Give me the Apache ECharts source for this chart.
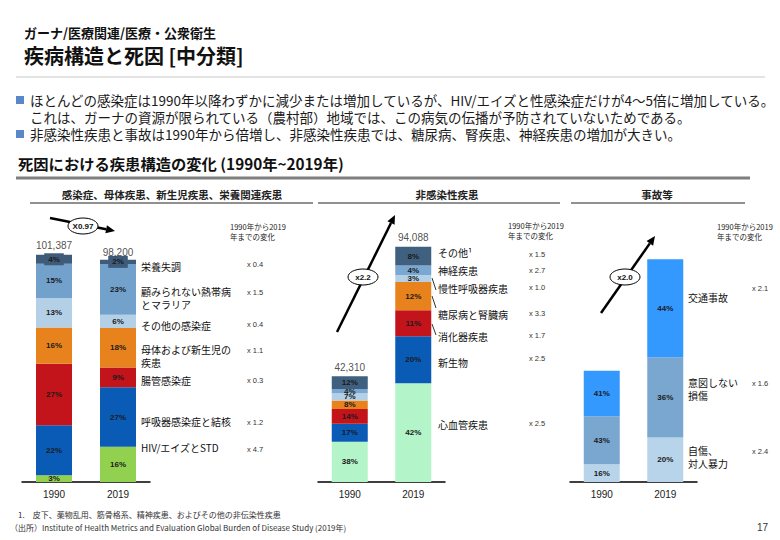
<!DOCTYPE html>
<html><head><meta charset="utf-8">
<script src="https://cdn.jsdelivr.net/npm/echarts@6/dist/echarts.min.js"></script>
<style>html,body{margin:0;padding:0;background:#fff}#c{width:780px;height:540px}</style>
</head><body><div id="c"></div>
<script>
// ---------- DATA ----------
const years = ['1990', '2019'];

// Panel 1: 感染症、母体疾患、新生児疾患、栄養関連疾患 (bottom -> top)
const p1Names = ['HIV/エイズとSTD', '呼吸器感染症と結核', '腸管感染症', '母体および新生児の\n疾患', 'その他の感染症', '顧みられない熱帯病\nとマラリア', '栄養失調'];
const p1Pct1990 = [3, 22, 27, 16, 13, 15, 4];
const p1Pct2019 = [16, 27, 9, 18, 6, 23, 2];
const p1Change = [4.7, 1.2, 0.3, 1.1, 0.4, 1.5, 0.4];
const p1Totals = [101387, 98200];
const p1Ratio = 'X0.97';

// Panel 2: 非感染性疾患 (bottom -> top)
const p2Names = ['心血管疾患', '新生物', '消化器疾患', '糖尿病と腎臓病', '慢性呼吸器疾患', '神経疾患', 'その他¹'];
const p2Pct1990 = [38, 17, 14, 8, 7, 4, 12];
const p2Pct2019 = [42, 20, 11, 12, 3, 4, 8];
const p2Change = [2.5, 2.5, 1.7, 3.3, 1.0, 2.7, 1.5];
const p2Totals = [42310, 94088];
const p2Ratio = 'x2.2';

// Panel 3: 事故等 (bottom -> top); totals not shown, relative index (1990 = 100)
const p3Names = ['自傷、\n対人暴力', '意図しない\n損傷', '交通事故'];
const p3Pct1990 = [16, 43, 41];
const p3Pct2019 = [20, 36, 44];
const p3Change = [2.4, 1.6, 2.1];
const p3Index = [100, 200];
const p3Ratio = 'x2.0';

// ---------- STYLE / LAYOUT ----------
const JP = '"Noto Sans CJK JP", "Noto Sans", sans-serif';
const LAT = '"Liberation Sans", Arial, sans-serif';
const p1Colors = ['#92d050', '#0a5bb5', '#c3141b', '#e8821c', '#b4d0e6', '#72a2cc', '#3e5b7a'];
const p2Colors = ['#b3f5c9', '#0a5bb5', '#c3141b', '#e8821c', '#b4d0e6', '#7aa8d2', '#40607f'];
const p3Colors = ['#b8d4ea', '#7aa7cf', '#3399ff'];
// small vertical nudges for crowded labels in the 1990 NCD bar (per series, bottom -> top)
const p2Nudge1990 = [0, 0, 0, -1, 0, -2, -2];

const panels = [
  {names: p1Names, a: p1Pct1990, b: p1Pct2019, change: p1Change, totals: p1Totals, colors: p1Colors, showTotals: true,
   grid: {left: 22, width: 128, top: 213, bottom: 58}, ymax: 120000, nudge: null,
   nameX: 141, nameY: [447, 421, 380, 355.5, 325, 297.5, 266], multX: 247, multY: [449, 422, 380, 350, 324, 292, 264],
   noteX: 230, noteY: 231},
  {names: p2Names, a: p2Pct1990, b: p2Pct2019, change: p2Change, totals: p2Totals, colors: p2Colors, showTotals: true,
   grid: {left: 318, width: 127, top: 232, bottom: 58}, ymax: 100000, nudge: p2Nudge1990,
   nameX: 438, nameY: [424, 362, 336, 314, 288, 270, 252], multX: 529, multY: [423, 358, 335, 313, 287, 270, 254],
   noteX: 508, noteY: 230},
  {names: p3Names, a: p3Pct1990, b: p3Pct2019, change: p3Change, totals: p3Index, colors: p3Colors, showTotals: false,
   grid: {left: 570, width: 127, top: 237, bottom: 58}, ymax: 220, nudge: null,
   nameX: 688, nameY: [456.5, 389, 297], multX: 752, multY: [451, 383, 288],
   noteX: 717, noteY: 231}
];

const grids = [], xAxes = [], yAxes = [], series = [], graphics = [];

panels.forEach((p, gi) => {
  grids.push(Object.assign({containLabel: false}, p.grid));
  xAxes.push({type: 'category', gridIndex: gi, data: years,
    axisLine: {lineStyle: {color: '#000', width: 1.5}}, axisTick: {show: false},
    axisLabel: {fontSize: 10, color: '#222', fontFamily: LAT, margin: 7}});
  yAxes.push({type: 'value', gridIndex: gi, min: 0, max: p.ymax, show: false, splitLine: {show: false}});
  p.names.forEach((nm, si) => {
    const pcts = [p.a[si], p.b[si]];
    const isTopP1 = gi === 0 && si === p.names.length - 1;
    const data = pcts.map((v, k) => {
      const item = {value: p.totals[k] * v / 100};
      if (p.nudge && k === 0 && p.nudge[si]) item.label = {offset: [0, p.nudge[si]]};
      return item;
    });
    series.push({
      type: 'bar', name: nm, stack: 'p' + gi, xAxisIndex: gi, yAxisIndex: gi, barWidth: 36,
      itemStyle: {color: p.colors[si]},
      data: data,
      label: Object.assign({show: true, position: 'inside', fontSize: 8, fontWeight: 'bold', color: '#1a1a1a',
        fontFamily: LAT, lineHeight: 7, formatter: (q) => pcts[q.dataIndex] + '%'},
        isTopP1 ? {backgroundColor: p.colors[si], padding: [2, 4, 2, 4], offset: [0, 6], lineHeight: 8} : {}),
      labelLayout: {hideOverlap: false},
      emphasis: {disabled: true}, animation: false
    });
  });
  if (p.showTotals) {
    series.push({type: 'scatter', xAxisIndex: gi, yAxisIndex: gi, symbolSize: 2,
      itemStyle: {color: 'rgba(255,255,255,0)'}, data: p.totals.slice(), animation: false, z: 5,
      emphasis: {disabled: true}, silent: true,
      label: {show: true, position: 'top', distance: 3, fontSize: 10, lineHeight: 10, color: '#222', fontFamily: LAT,
        formatter: (q) => q.value.toLocaleString('en-US')}});
  }
  // category names and change multipliers
  p.names.forEach((nm, si) => {
    graphics.push({type: 'text', x: p.nameX, y: p.nameY[si], style: {text: nm, font: '10px ' + JP, fill: '#111',
      textAlign: 'left', align: 'left', textVerticalAlign: 'middle', verticalAlign: 'middle', lineHeight: 13}});
    graphics.push({type: 'text', x: p.multX, y: p.multY[si], style: {text: 'x ' + p.change[si].toFixed(1), font: '7.5px ' + LAT, fill: '#333',
      textAlign: 'left', align: 'left', textVerticalAlign: 'middle', verticalAlign: 'middle'}});
  });
  graphics.push({type: 'text', x: p.noteX, y: p.noteY, style: {text: '1990年から2019\n年までの変化', font: '7.5px ' + JP, fill: '#222',
    textAlign: 'left', align: 'left', textVerticalAlign: 'middle', verticalAlign: 'middle', lineHeight: 10}});
});

// arrows with ratio ellipses
function arrow(x1, y1, x2, y2, cx, cy, txt) {
  const ang = Math.atan2(y2 - y1, x2 - x1), L = 9, W = 4;
  const bx = x2 - L * Math.cos(ang), by = y2 - L * Math.sin(ang);
  graphics.push({type: 'line', shape: {x1: x1, y1: y1, x2: bx, y2: by}, style: {stroke: '#000', lineWidth: 2.5}, z: 10});
  graphics.push({type: 'polygon', shape: {points: [[x2, y2],
    [bx + W * Math.sin(ang), by - W * Math.cos(ang)], [bx - W * Math.sin(ang), by + W * Math.cos(ang)]]},
    style: {fill: '#000'}, z: 10});
  graphics.push({type: 'ellipse', shape: {cx: cx, cy: cy, rx: 15, ry: 8}, style: {fill: '#fff', stroke: '#000', lineWidth: 1}, z: 11});
  graphics.push({type: 'text', x: cx, y: cy, z: 12, style: {text: txt, font: 'bold 8px ' + LAT, fill: '#111',
    textAlign: 'center', align: 'center', textVerticalAlign: 'middle', verticalAlign: 'middle'}});
}
arrow(50, 218, 115, 231, 83, 226, p1Ratio);
arrow(337, 332, 395, 215, 363, 277, p2Ratio);
arrow(601, 313, 655, 236, 625, 277, p3Ratio);

// leader lines panel 2
[[432, 278, 436, 290], [432, 296, 436, 308], [432, 324, 436, 335]].forEach(s => {
  graphics.push({type: 'line', shape: {x1: s[0], y1: s[1], x2: s[2], y2: s[3]}, style: {stroke: '#000', lineWidth: 0.8}});
});

// headings and text
function txt(t, x, y, font, fill, align, lh) {
  const st = {text: t, font: font, fill: fill || '#111',
    textAlign: align || 'left', align: align || 'left', textVerticalAlign: 'middle', verticalAlign: 'middle'};
  if (lh) st.lineHeight = lh;
  graphics.push({type: 'text', x: x, y: y, style: st});
}
txt('ガーナ/医療関連/医療・公衆衛生', 24, 32, 'bold 13px ' + JP, '#111');
txt('疾病構造と死因 [中分類]', 24, 55, 'bold 20px ' + JP, '#111');
graphics.push({type: 'line', shape: {x1: 16, y1: 77, x2: 765, y2: 77}, style: {stroke: '#c8c8c8', lineWidth: 1}});
graphics.push({type: 'rect', shape: {x: 16, y: 96, width: 8, height: 8}, style: {fill: '#5a87c9'}});
graphics.push({type: 'rect', shape: {x: 16, y: 130, width: 8, height: 8}, style: {fill: '#5a87c9'}});
txt('ほとんどの感染症は1990年以降わずかに減少または増加しているが、HIV/エイズと性感染症だけが4～5倍に増加している。\n' +
    'これは、ガーナの資源が限られている（農村部）地域では、この病気の伝播が予防されていないためである。\n' +
    '非感染性疾患と事故は1990年から倍増し、非感染性疾患では、糖尿病、腎疾患、神経疾患の増加が大きい。',
    30, 117, '13.5px ' + JP, '#1a1a1a', 'left', 17);
txt('死因における疾患構造の変化 (1990年~2019年)', 18, 163, 'bold 15.3px ' + JP, '#111');
graphics.push({type: 'line', shape: {x1: 16, y1: 178, x2: 750, y2: 178}, style: {stroke: '#7f7f7f', lineWidth: 3}});

txt('感染症、母体疾患、新生児疾患、栄養関連疾患', 172, 194, 'bold 10.5px ' + JP, '#222', 'center');
txt('非感染性疾患', 447, 194, 'bold 10.5px ' + JP, '#222', 'center');
txt('事故等', 657, 194, 'bold 10.5px ' + JP, '#222', 'center');
[[30, 313], [318, 560], [571, 745]].forEach(s => {
  graphics.push({type: 'line', shape: {x1: s[0], y1: 203, x2: s[1], y2: 203}, style: {stroke: '#222', lineWidth: 1}});
});

txt('1.　皮下、薬物乱用、筋骨格系、精神疾患、およびその他の非伝染性疾患', 18, 514, '8px ' + JP, '#333');
txt('（出所）Institute of Health Metrics and Evaluation Global Burden of Disease Study (2019年)', 10, 527, '8px ' + JP, '#333');
txt('17', 757, 527, '10px ' + LAT, '#333');

const chart = echarts.init(document.getElementById('c'), null, {renderer: 'svg', width: 780, height: 540});
chart.setOption({
  animation: false,
  backgroundColor: '#fff',
  grid: grids, xAxis: xAxes, yAxis: yAxes, series: series,
  graphic: {elements: graphics}
});
</script></body></html>
